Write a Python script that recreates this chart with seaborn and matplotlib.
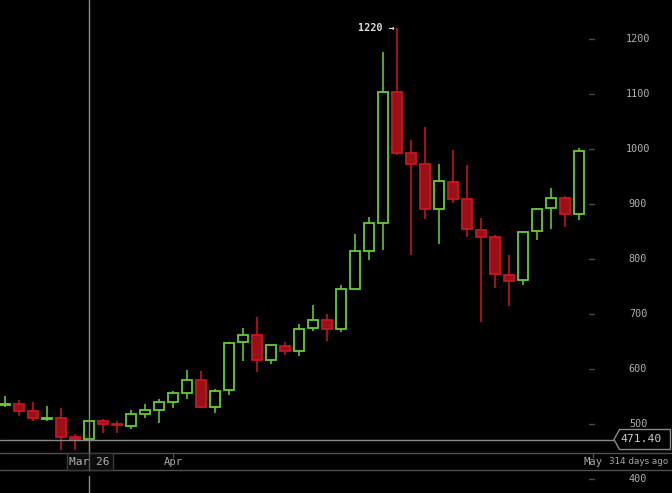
import matplotlib
matplotlib.use("Agg")
import matplotlib.pyplot as plt
from matplotlib.patches import Polygon
import numpy as np
import pandas as pd
import seaborn as sns

# daily candles, Mar 20 .. Apr 30
opens = [534, 536, 523, 509, 511, 475, 473, 505.5, 500, 497, 518.7, 526, 540.6, 557,
         579.4, 531.5, 561.2, 648.5, 661.3, 617, 641.2, 632.2, 674, 688.5, 672, 746,
         815, 865, 1103, 992.2, 972.2, 891.5, 939.4, 908.5, 852.2, 839.4, 770.3, 761.2,
         850.3, 892.2, 910.3, 881.3]
highs = [551, 544, 540, 533, 529, 482, 507, 509, 505.5, 525.5, 536.4, 545.5, 560, 598,
         596.4, 563, 648.5, 674.5, 694.5, 643.5, 648.5, 681.2, 715.8, 699.4, 752.2, 845.5,
         876.4, 1176.4, 1220, 1015.8, 1039.5, 972.2, 998.2, 971, 874.5, 843, 806.7, 850.3,
         892, 928.5, 914.5, 1001.3]
lows = [530, 515, 506, 506, 453, 453, 470, 484, 484, 491.5, 511.5, 502.4, 529.7, 546,
        529.7, 520.6, 553.3, 615, 595, 609.7, 626, 624.2, 669.7, 651.5, 668, 745,
        798.2, 817, 989.7, 807.8, 873.3, 828, 901.2, 840.6, 686, 747.8, 715, 752.2,
        834, 854, 858.7, 870.4]
closes = [536, 524, 510, 511, 476, 473, 505, 500.5, 497.5, 517.6, 525, 539.4, 555.8, 579.4,
          531.5, 559.4, 646.7, 661.3, 617, 643, 632.2, 672.1, 688.5, 672.1, 745, 814,
          865, 1103, 993.3, 973.3, 891.5, 941.3, 909.7, 854, 840.6, 772.1, 759.4, 848.5,
          890.3, 910.3, 881.3, 995.8]

price_ticks = [400, 500, 600, 700, 800, 900, 1000, 1100, 1200]
x_ticks = [12, 42]
x_tick_labels = ["Apr", "May"]
cross_idx = 6
cross_label = "Mar 26"
cross_price = 470.3
cross_price_label = "471.40"
peak_label = "1220 \u2192"
ago_label = "314 days ago"

df = pd.DataFrame({"open": opens, "high": highs, "low": lows, "close": closes})
df["i"] = np.arange(len(df))
df["up"] = df["close"] >= df["open"]

sns.set_theme(style="dark", rc={"axes.facecolor": "black", "figure.facecolor": "black",
                                "savefig.facecolor": "black"})
plt.rcParams["font.family"] = ["DejaVu Sans Mono", "DejaVu Sans"]

W, H = 672, 493
fig = plt.figure(figsize=(W / 100, H / 100), dpi=100)
ax = fig.add_axes([0, 0, 1, 1])
ax.set_xlim(-0.379, 47.62)
ax.set_ylim(374.5, 1270.9)
ax.set_axis_off()

def fx(px):
    return px / W

def fy(py):
    return 1 - py / H

def ix(i):
    # candle index -> pixel x, through the axes' own transform
    return ax.transData.transform((i, 0))[0]

green = "#66cc33"
red_edge = "#c8161e"
red_fill = "#9a1018"

for up, grp in df.groupby("up"):
    col = green if up else red_edge
    ax.vlines(grp["i"], grp["low"], grp["high"], color=col, lw=1.15, zorder=2)
    bottom = np.minimum(grp["open"], grp["close"])
    height = np.maximum((grp["close"] - grp["open"]).abs(), 2.5)
    ax.bar(grp["i"], height, bottom=bottom, width=0.72,
           facecolor="black" if up else red_fill, edgecolor=col, lw=1.3, zorder=3)

# price axis on the right
for p in price_ticks:
    ax.plot([fx(589), fx(594)], [p, p], color="#4a4a4a", lw=1,
            transform=ax.get_yaxis_transform(), zorder=1)
    ax.text(fx(638), p, str(p), color="#b0b0b0", fontsize=7.3, ha="center",
            va="center", transform=ax.get_yaxis_transform(), zorder=5)

# time band
band_top, band_bot = 453.3, 470.3
for yy in (band_top, band_bot):
    fig.add_artist(plt.Line2D([0, 1], [fy(yy), fy(yy)], color="#505050", lw=1, zorder=6))
for t, lab in zip(x_ticks, x_tick_labels):
    fig.add_artist(plt.Line2D([fx(ix(t)), fx(ix(t))], [fy(band_top), fy(band_top + 4)],
                              color="#505050", lw=1, zorder=6))
    fig.text(fx(ix(t)), fy(462), lab, color="#a8a8a8", fontsize=7.6, ha="center",
             va="center", zorder=7)
fig.text(fx(ix(42) + 16), fy(462), ago_label, color="#a8a8a8", fontsize=6.3, ha="left",
         va="center", zorder=7, family="DejaVu Sans")

# crosshair
ax.axhline(cross_price, xmin=0, xmax=fx(614), color="#8a8a8a", lw=1, zorder=4)
ax.plot([cross_idx, cross_idx], [1, fy(band_bot)], color="#8a8a8a", lw=1,
        transform=ax.get_xaxis_transform(), zorder=4)
ax.plot([cross_idx, cross_idx], [fy(476), 0], color="#8a8a8a", lw=1,
        transform=ax.get_xaxis_transform(), zorder=4)
box = plt.Rectangle((fx(66.7), fy(band_bot)), fx(112.7) - fx(66.7), fy(band_top) - fy(band_bot),
                    transform=fig.transFigure, facecolor="#0c0c0c", edgecolor="#3a3a3a",
                    lw=1, zorder=8)
fig.add_artist(box)
fig.add_artist(plt.Line2D([fx(ix(cross_idx))] * 2, [fy(band_bot), fy(band_top)],
                          color="#5a5a5a", lw=1, zorder=9))
fig.text(fx(ix(cross_idx)), fy(462), cross_label, color="#b4b4b4", fontsize=8,
         ha="center", va="center", zorder=10)

# price marker on the right
ypx = 439.5
poly = Polygon([(fx(614), fy(ypx)), (fx(619.5), fy(429.5)), (fx(670.5), fy(429.5)),
                (fx(670.5), fy(449.5)), (fx(619.5), fy(449.5))], closed=True,
               transform=fig.transFigure, facecolor="black", edgecolor="#8a8a8a",
               lw=1, zorder=9)
fig.add_artist(poly)
fig.text(fx(641), fy(ypx), cross_price_label, color="#cccccc", fontsize=8.2,
         ha="center", va="center", zorder=10)

# peak annotation
peak_i = int(np.argmax(highs))
ax.text(peak_i - 0.2, max(highs), peak_label, color="#dddddd", fontsize=7.3,
        fontweight="bold", ha="right", va="center", zorder=5)

fig.savefig("out.png", dpi=100, facecolor="black")
